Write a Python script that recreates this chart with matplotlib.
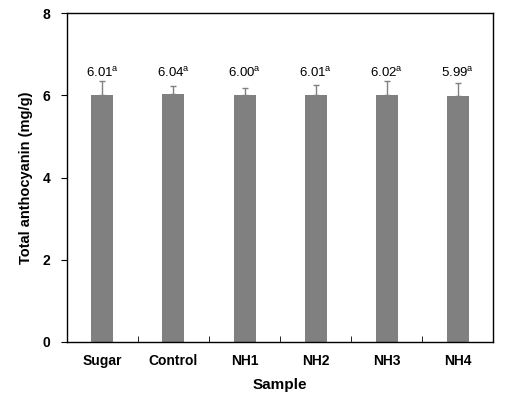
import matplotlib; matplotlib.use('Agg')
import numpy as np
from matplotlib import pyplot as plt

plt.rcParams.update({
    'font.family': ['Liberation Sans', 'DejaVu Sans'],
    'mathtext.fontset': 'custom',
    'mathtext.rm': 'Liberation Sans',
    'mathtext.it': 'Liberation Sans:italic',
    'mathtext.bf': 'Liberation Sans:bold',
    'axes.linewidth': 1.0,
})

samples = ['Sugar', 'Control', 'NH1', 'NH2', 'NH3', 'NH4']
values = [6.01, 6.04, 6.00, 6.01, 6.02, 5.99]
errors = [0.35, 0.19, 0.17, 0.25, 0.32, 0.32]
letters = ['a', 'a', 'a', 'a', 'a', 'a']

fig = plt.figure(figsize=(5.11, 3.99), dpi=100)
ax = fig.add_axes([0.131, 0.143, 0.834, 0.824])

x = np.arange(len(samples))
ax.bar(x, values, 0.31, color='#808080', zorder=2)
ax.errorbar(x, values, yerr=[np.zeros(len(errors)), errors], fmt='none',
            ecolor='#808080', elinewidth=1.0, capsize=2.5, capthick=1.0, zorder=3)

for xi, v, e, l in zip(x, values, errors, letters):
    ax.text(xi, 6.37, '%.2f$^{\\mathrm{%s}}$' % (v, l), ha='center', va='bottom',
            fontsize=9.5)

ax.set_xlim(-0.5, len(samples) - 0.5)
ax.set_ylim(0, 8)
ax.set_yticks([0, 2, 4, 6, 8])
ax.set_xticks(x)
ax.set_xticklabels(samples, fontsize=10, fontweight='bold')
ax.set_yticklabels(['0', '2', '4', '6', '8'], fontsize=10, fontweight='bold')
ax.tick_params(axis='x', length=0, pad=9)
ax.tick_params(axis='y', direction='out', length=4, pad=8)
ax.set_xticks(np.arange(0.5, len(samples) - 0.5), minor=True)
ax.tick_params(axis='x', which='minor', direction='in', length=4)

ax.set_xlabel('Sample', fontsize=11, fontweight='bold', labelpad=7)
ax.set_ylabel('Total anthocyanin (mg/g)', fontsize=10.5, fontweight='bold', labelpad=7)

plt.savefig('out.png', dpi=100)
plt.close()
